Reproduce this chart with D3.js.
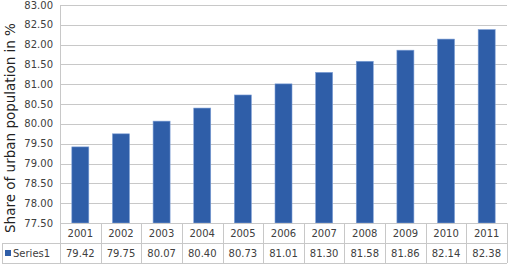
<!DOCTYPE html>
<html>
<head>
<meta charset="utf-8">
<script src="https://cdn.jsdelivr.net/npm/d3@7"></script>
<style>
body { margin: 0; background: #fff; }
svg { display: block; }
</style>
</head>
<body>
<div id="vis"></div>
<script>
const years = ["2001","2002","2003","2004","2005","2006","2007","2008","2009","2010","2011"];
const shares = [79.42, 79.75, 80.07, 80.40, 80.73, 81.01, 81.30, 81.58, 81.86, 82.14, 82.38];
const yTicks = [77.5, 78, 78.5, 79, 79.5, 80, 80.5, 81, 81.5, 82, 82.5, 83];
const seriesName = "Series1";

const WIDTH = 510, HEIGHT = 265;
const PLOT = {left: 60, right: 507, top: 5, bottom: 223};
const ROW_H = 20;
const FONT = "DejaVu Sans";
const TEXT = "#404040";
const GRID = "#c8c8c8";

const svg = d3.select("#vis").append("svg")
  .attr("width", WIDTH)
  .attr("height", HEIGHT);

const x = d3.scaleBand()
  .domain(years)
  .range([PLOT.left, PLOT.right]);

const y = d3.scaleLinear()
  .domain([77.5, 83])
  .range([PLOT.bottom, PLOT.top]);

// gridlines
svg.append("g")
  .selectAll("line")
  .data(yTicks)
  .join("line")
  .attr("x1", PLOT.left)
  .attr("x2", PLOT.right)
  .attr("y1", d => Math.round(y(d)) + 0.5)
  .attr("y2", d => Math.round(y(d)) + 0.5)
  .attr("stroke", GRID)
  .attr("stroke-width", 1);

// y axis labels
svg.append("g")
  .selectAll("text")
  .data(yTicks)
  .join("text")
  .attr("x", 53)
  .attr("y", d => y(d))
  .attr("dy", "0.35em")
  .attr("text-anchor", "end")
  .attr("font-family", FONT)
  .attr("font-size", "10px")
  .attr("fill", TEXT)
  .text(d => d3.format(".2f")(d));

// bars
const barW = 17;
svg.append("g")
  .selectAll("rect")
  .data(shares)
  .join("rect")
  .attr("x", (d, i) => x(years[i]) + x.bandwidth() / 2 - barW / 2)
  .attr("y", d => y(d))
  .attr("width", barW)
  .attr("height", d => PLOT.bottom - y(d))
  .attr("fill", "#2f5ea8")
  .attr("stroke", "#7d9fd6")
  .attr("stroke-width", 0.6);

// y axis line
svg.append("line")
  .attr("x1", PLOT.left + 0.5).attr("x2", PLOT.left + 0.5)
  .attr("y1", PLOT.top).attr("y2", PLOT.bottom + 2 * ROW_H)
  .attr("stroke", GRID);

// data table
const tbl = svg.append("g");
const tTop = PLOT.bottom;
[tTop, tTop + ROW_H, tTop + 2 * ROW_H].forEach((ty, k) => {
  tbl.append("line")
    .attr("x1", k === 0 ? PLOT.left : 2)
    .attr("x2", PLOT.right)
    .attr("y1", Math.round(ty) + 0.5)
    .attr("y2", Math.round(ty) + 0.5)
    .attr("stroke", GRID);
});
tbl.append("line")
  .attr("x1", 2.5).attr("x2", 2.5)
  .attr("y1", tTop + ROW_H).attr("y2", tTop + 2 * ROW_H)
  .attr("stroke", GRID);

tbl.selectAll("line.sep")
  .data(years)
  .join("line")
  .attr("class", "sep")
  .attr("x1", d => Math.round(x(d) + x.bandwidth()) + 0.5)
  .attr("x2", d => Math.round(x(d) + x.bandwidth()) + 0.5)
  .attr("y1", tTop)
  .attr("y2", tTop + 2 * ROW_H)
  .attr("stroke", GRID);

tbl.selectAll("text.year")
  .data(years)
  .join("text")
  .attr("class", "year")
  .attr("x", d => x(d) + x.bandwidth() / 2)
  .attr("y", tTop + ROW_H / 2)
  .attr("dy", "0.35em")
  .attr("text-anchor", "middle")
  .attr("font-family", FONT)
  .attr("font-size", "10px")
  .attr("fill", TEXT)
  .text(d => d);

tbl.selectAll("text.val")
  .data(shares)
  .join("text")
  .attr("class", "val")
  .attr("x", (d, i) => x(years[i]) + x.bandwidth() / 2)
  .attr("y", tTop + ROW_H * 1.5)
  .attr("dy", "0.35em")
  .attr("text-anchor", "middle")
  .attr("font-family", FONT)
  .attr("font-size", "10px")
  .attr("fill", TEXT)
  .text(d => d3.format(".2f")(d));

// legend key
tbl.append("rect")
  .attr("x", 5).attr("y", tTop + ROW_H * 1.5 - 3)
  .attr("width", 6).attr("height", 6)
  .attr("fill", "#2f5ea8");
tbl.append("text")
  .attr("x", 13)
  .attr("y", tTop + ROW_H * 1.5)
  .attr("dy", "0.35em")
  .attr("font-family", FONT)
  .attr("font-size", "10px")
  .attr("fill", TEXT)
  .text(seriesName);

// y axis title
svg.append("text")
  .attr("transform", "translate(15,128) rotate(-90)")
  .attr("text-anchor", "middle")
  .attr("font-family", FONT)
  .attr("font-size", "13.5px")
  .attr("fill", "#222")
  .text("Share of urban population in %");
</script>
</body>
</html>
